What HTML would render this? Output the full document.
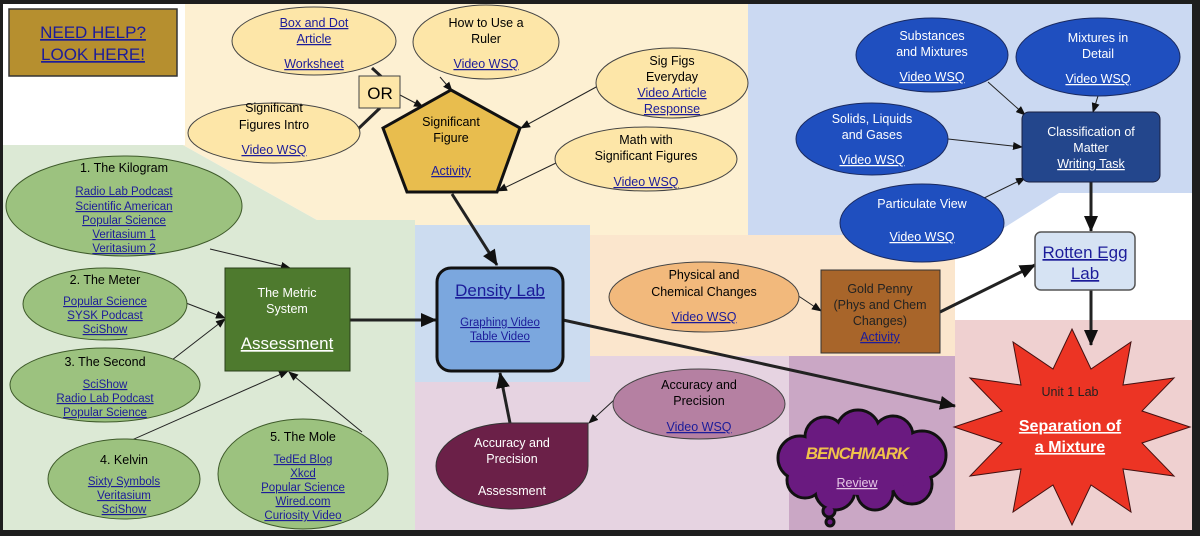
<!DOCTYPE html>
<html><head><meta charset="utf-8"><style>
html,body{margin:0;padding:0;background:#1e1e1e;}
svg{display:block;font-family:"Liberation Sans",Arial,sans-serif;}
.l{fill:#1c1c9a;text-decoration:underline;}
.w{fill:#fff;}
.wl{fill:#fff;text-decoration:underline;}
text{font-size:12.5px;text-anchor:middle;}
</style></head><body>
<svg width="1200" height="536" viewBox="0 0 1200 536">
<defs>
<marker id="a" markerUnits="userSpaceOnUse" markerWidth="10" markerHeight="8" refX="9" refY="4" orient="auto"><path d="M0,0 L10,4 L0,8 Z" fill="#111"/></marker>
<marker id="A" markerUnits="userSpaceOnUse" markerWidth="16" markerHeight="14" refX="15" refY="7" orient="auto"><path d="M0,0 L16,7 L0,14 Z" fill="#111"/></marker>
</defs>
<rect x="0" y="0" width="1200" height="536" fill="#1e1e1e"/>
<rect x="3" y="4" width="1189" height="526" fill="#fff"/>
<!-- regions -->
<polygon points="3,145 183,145 317,220 415,220 415,530 3,530" fill="#dce9d5"/>
<polygon points="185,4 753,4 753,235 590,235 590,225 415,225 415,220 317,220 183,145 185,145" fill="#fdf0d2"/>
<rect x="415" y="225" width="175" height="157" fill="#ccdcf0"/>
<polygon points="748,4 1192,4 1192,193 1059,193 950,262 748,262" fill="#cbd9f2"/>
<rect x="590" y="235" width="365" height="121" fill="#fbe6cd"/>
<rect x="415" y="356" width="375" height="174" fill="#e6d3e1"/>
<rect x="415" y="356" width="175" height="26" fill="#ccdcf0"/>
<rect x="789" y="356" width="166" height="174" fill="#caa7c5"/>
<rect x="955" y="320" width="237" height="210" fill="#efd0d0"/>
<!-- need help -->
<rect x="9" y="9" width="168" height="67" fill="#b68f2f" stroke="#333" stroke-width="1.5"/>
<text x="93" y="38" class="l" style="font-size:17px">NEED HELP?</text>
<text x="93" y="60" class="l" style="font-size:17px">LOOK HERE!</text>
<!-- connectors -->
<g stroke="#222" fill="none">
<line x1="372" y1="68" x2="385" y2="80" stroke-width="3"/>
<line x1="380" y1="108" x2="357" y2="130" stroke-width="3"/>
<line x1="400" y1="95" x2="423" y2="107" stroke-width="1" marker-end="url(#a)"/>
<line x1="440" y1="77" x2="452" y2="91" stroke-width="1" marker-end="url(#a)"/>
<line x1="598" y1="86" x2="521" y2="128" stroke-width="1" marker-end="url(#a)"/>
<line x1="556" y1="163" x2="498" y2="191" stroke-width="1" marker-end="url(#a)"/>
<line x1="452" y1="194" x2="497" y2="265" stroke-width="3" marker-end="url(#A)"/>
<line x1="988" y1="82" x2="1025" y2="115" stroke-width="1" marker-end="url(#a)"/>
<line x1="1098" y1="96" x2="1093" y2="112" stroke-width="1" marker-end="url(#a)"/>
<line x1="948" y1="139" x2="1022" y2="147" stroke-width="1" marker-end="url(#a)"/>
<line x1="980" y1="200" x2="1025" y2="178" stroke-width="1" marker-end="url(#a)"/>
<line x1="1091" y1="182" x2="1091" y2="231" stroke-width="3" marker-end="url(#A)"/>
<line x1="1091" y1="290" x2="1091" y2="345" stroke-width="3" marker-end="url(#A)"/>
<line x1="940" y1="312" x2="1035" y2="265" stroke-width="3" marker-end="url(#A)"/>
<line x1="797" y1="295" x2="821" y2="311" stroke-width="1" marker-end="url(#a)"/>
<line x1="210" y1="249" x2="290" y2="268" stroke-width="1" marker-end="url(#a)"/>
<line x1="186" y1="303" x2="225" y2="318" stroke-width="1" marker-end="url(#a)"/>
<line x1="172" y1="360" x2="225" y2="319" stroke-width="1" marker-end="url(#a)"/>
<line x1="125" y1="443" x2="288" y2="371" stroke-width="1" marker-end="url(#a)"/>
<line x1="362" y1="432" x2="289" y2="372" stroke-width="1" marker-end="url(#a)"/>
<line x1="350" y1="320" x2="436" y2="320" stroke-width="3" marker-end="url(#A)"/>
<line x1="563" y1="320" x2="955" y2="406" stroke-width="3" marker-end="url(#A)"/>
<line x1="510" y1="423" x2="500" y2="373" stroke-width="3" marker-end="url(#A)"/>
<line x1="614" y1="400" x2="589" y2="423" stroke-width="1" marker-end="url(#a)"/>
</g>
<!-- yellow ellipses -->
<g fill="#fde6a8" stroke="#444" stroke-width="1">
<ellipse cx="314" cy="41" rx="82" ry="34"/>
<ellipse cx="486" cy="42" rx="73" ry="37"/>
<ellipse cx="274" cy="133" rx="86" ry="30"/>
<ellipse cx="672" cy="83" rx="76" ry="35"/>
<ellipse cx="646" cy="159" rx="91" ry="32"/>
<rect x="359" y="76" width="41" height="32"/>
</g>
<text x="314" y="27" class="l">Box and Dot</text>
<text x="314" y="43" class="l">Article</text>
<text x="314" y="68" class="l">Worksheet</text>
<text x="486" y="27" >How to Use a</text>
<text x="486" y="43">Ruler</text>
<text x="486" y="68" class="l">Video  WSQ</text>
<text x="274" y="112">Significant</text>
<text x="274" y="129">Figures Intro</text>
<text x="274" y="154" class="l">Video  WSQ</text>
<text x="672" y="65">Sig Figs</text>
<text x="672" y="81">Everyday</text>
<text x="672" y="97" class="l">Video  Article</text>
<text x="672" y="113" class="l">Response</text>
<text x="646" y="144">Math with</text>
<text x="646" y="160">Significant Figures</text>
<text x="646" y="186" class="l">Video    WSQ</text>
<text x="380" y="99" style="font-size:17px">OR</text>
<polygon points="451,90 520,128 497,192 407,192 383,128" fill="#e8bd4e" stroke="#111" stroke-width="3"/>
<text x="451" y="126">Significant</text>
<text x="451" y="142">Figure</text>
<text x="451" y="175" class="l">Activity</text>
<!-- blue -->
<g fill="#1f4fbf" stroke="#1a2a60" stroke-width="1">
<ellipse cx="932" cy="55" rx="76" ry="37"/>
<ellipse cx="1098" cy="57" rx="82" ry="39"/>
<ellipse cx="872" cy="139" rx="76" ry="36"/>
<ellipse cx="922" cy="223" rx="82" ry="39"/>
</g>
<rect x="1022" y="112" width="138" height="70" rx="7" fill="#23468c" stroke="#1a2040"/>
<g class="w">
<text x="932" y="40" class="w">Substances</text>
<text x="932" y="56" class="w">and Mixtures</text>
<text x="932" y="81" class="wl">Video  WSQ</text>
<text x="1098" y="42" class="w">Mixtures in</text>
<text x="1098" y="58" class="w">Detail</text>
<text x="1098" y="83" class="wl">Video  WSQ</text>
<text x="872" y="123" class="w">Solids, Liquids</text>
<text x="872" y="139" class="w">and Gases</text>
<text x="872" y="164" class="wl">Video   WSQ</text>
<text x="922" y="208" class="w">Particulate View</text>
<text x="922" y="241" class="wl">Video   WSQ</text>
<text x="1091" y="136" class="w">Classification of</text>
<text x="1091" y="152" class="w">Matter</text>
<text x="1091" y="168" class="wl">Writing Task</text>
</g>
<rect x="1035" y="232" width="100" height="58" rx="6" fill="#d6e3f3" stroke="#555" stroke-width="1.5"/>
<text x="1085" y="258" class="l" style="font-size:17px">Rotten Egg</text>
<text x="1085" y="279" class="l" style="font-size:17px">Lab</text>
<!-- peach -->
<ellipse cx="704" cy="297" rx="95" ry="35" fill="#f2b97c" stroke="#444"/>
<text x="704" y="279">Physical and</text>
<text x="704" y="296">Chemical Changes</text>
<text x="704" y="321" class="l">Video   WSQ</text>
<rect x="821" y="270" width="119" height="83" fill="#a8652a" stroke="#333"/>
<text x="880" y="293" style="fill:#222">Gold Penny</text>
<text x="880" y="309" style="fill:#222">(Phys and Chem</text>
<text x="880" y="325" style="fill:#222">Changes)</text>
<text x="880" y="341" class="l">Activity</text>
<!-- green -->
<g fill="#9cc27f" stroke="#3e5a2a" stroke-width="1">
<ellipse cx="124" cy="206" rx="118" ry="50"/>
<ellipse cx="105" cy="304" rx="82" ry="36"/>
<ellipse cx="105" cy="385" rx="95" ry="37"/>
<ellipse cx="124" cy="479" rx="76" ry="40"/>
<ellipse cx="303" cy="474" rx="85" ry="55"/>
</g>
<text x="124" y="172">1.  The Kilogram</text>
<g>
<text x="124" y="195" class="l" style="font-size:11.5px">Radio Lab Podcast</text>
<text x="124" y="210" class="l" style="font-size:11.5px">Scientific American</text>
<text x="124" y="224" class="l" style="font-size:11.5px">Popular Science</text>
<text x="124" y="238" class="l" style="font-size:11.5px">Veritasium 1</text>
<text x="124" y="252" class="l" style="font-size:11.5px">Veritasium 2</text>
<text x="105" y="284">2.  The Meter</text>
<text x="105" y="305" class="l" style="font-size:11.5px">Popular Science</text>
<text x="105" y="319" class="l" style="font-size:11.5px">SYSK Podcast</text>
<text x="105" y="333" class="l" style="font-size:11.5px">SciShow</text>
<text x="105" y="366">3. The Second</text>
<text x="105" y="388" class="l" style="font-size:11.5px">SciShow</text>
<text x="105" y="402" class="l" style="font-size:11.5px">Radio Lab Podcast</text>
<text x="105" y="416" class="l" style="font-size:11.5px">Popular Science</text>
<text x="124" y="464">4. Kelvin</text>
<text x="124" y="485" class="l" style="font-size:11.5px">Sixty Symbols</text>
<text x="124" y="499" class="l" style="font-size:11.5px">Veritasium</text>
<text x="124" y="513" class="l" style="font-size:11.5px">SciShow</text>
<text x="303" y="441">5. The Mole</text>
<text x="303" y="463" class="l" style="font-size:11.5px">TedEd Blog</text>
<text x="303" y="477" class="l" style="font-size:11.5px">Xkcd</text>
<text x="303" y="491" class="l" style="font-size:11.5px">Popular Science</text>
<text x="303" y="505" class="l" style="font-size:11.5px">Wired.com</text>
<text x="303" y="519" class="l" style="font-size:11.5px">Curiosity Video</text>
</g>
<rect x="225" y="268" width="125" height="103" fill="#4e7a2e" stroke="#2a3f1a"/>
<text x="287" y="297" class="w">The Metric</text>
<text x="287" y="313" class="w">System</text>
<text x="287" y="349" class="wl" style="font-size:17px">Assessment</text>
<!-- density -->
<rect x="437" y="268" width="126" height="103" rx="14" fill="#7ba7de" stroke="#111" stroke-width="3"/>
<text x="500" y="296" class="l" style="font-size:17px">Density Lab</text>
<text x="500" y="326" class="l" style="font-size:11.5px">Graphing Video</text>
<text x="500" y="340" class="l" style="font-size:11.5px">Table Video</text>
<!-- accuracy -->
<path d="M588,423 L588,466 A76,43 0 0 1 512,509 A76,43 0 0 1 436,466 A76,43 0 0 1 512,423 Z" fill="#6b2048" stroke="#333"/>
<text x="512" y="447" class="w">Accuracy and</text>
<text x="512" y="463" class="w">Precision</text>
<text x="512" y="495" class="w">Assessment</text>
<ellipse cx="699" cy="404" rx="86" ry="35" fill="#b580a2" stroke="#444"/>
<text x="699" y="389">Accuracy and</text>
<text x="699" y="405">Precision</text>
<text x="699" y="431" class="l">Video  WSQ</text>
<!-- cloud -->
<g stroke="#111" stroke-width="3" fill="#6a1a80">
<circle cx="800" cy="458" r="22"/><circle cx="825" cy="437" r="20"/><circle cx="858" cy="432" r="22"/><circle cx="893" cy="436" r="20"/><circle cx="922" cy="455" r="24"/><circle cx="912" cy="484" r="20"/><circle cx="875" cy="492" r="18"/><circle cx="835" cy="490" r="20"/><circle cx="805" cy="480" r="18"/>
<circle cx="829" cy="511" r="6"/><circle cx="830" cy="522" r="4"/>
</g>
<g fill="#6a1a80">
<circle cx="800" cy="458" r="20.5"/><circle cx="825" cy="437" r="18.5"/><circle cx="858" cy="432" r="20.5"/><circle cx="893" cy="436" r="18.5"/><circle cx="922" cy="455" r="22.5"/><circle cx="912" cy="484" r="18.5"/><circle cx="875" cy="492" r="16.5"/><circle cx="835" cy="490" r="18.5"/><circle cx="805" cy="480" r="16.5"/>
<ellipse cx="860" cy="465" rx="60" ry="30"/>
</g>
<text x="857" y="459" style="font-size:17px;font-weight:bold;font-style:italic;fill:#f0c24a;letter-spacing:-1px">BENCHMARK</text>
<text x="857" y="487" style="fill:#e6c8e6;text-decoration:underline">Review</text>
<!-- star -->
<polygon points="1072,329 1091,369 1131,342 1123,385 1174,378 1142,411 1190,427 1142,443 1174,476 1123,469 1131,512 1091,485 1072,525 1053,485 1013,512 1021,469 970,476 1002,443 954,427 1002,411 970,378 1021,385 1013,342 1053,369" fill="#ec3424" stroke="#441111" stroke-width="1"/>
<text x="1070" y="396" style="fill:#222">Unit 1 Lab</text>
<text x="1070" y="431" class="wl" style="font-size:16px;font-weight:bold">Separation of</text>
<text x="1070" y="452" class="wl" style="font-size:16px;font-weight:bold">a Mixture</text>
</svg>
</body></html>
